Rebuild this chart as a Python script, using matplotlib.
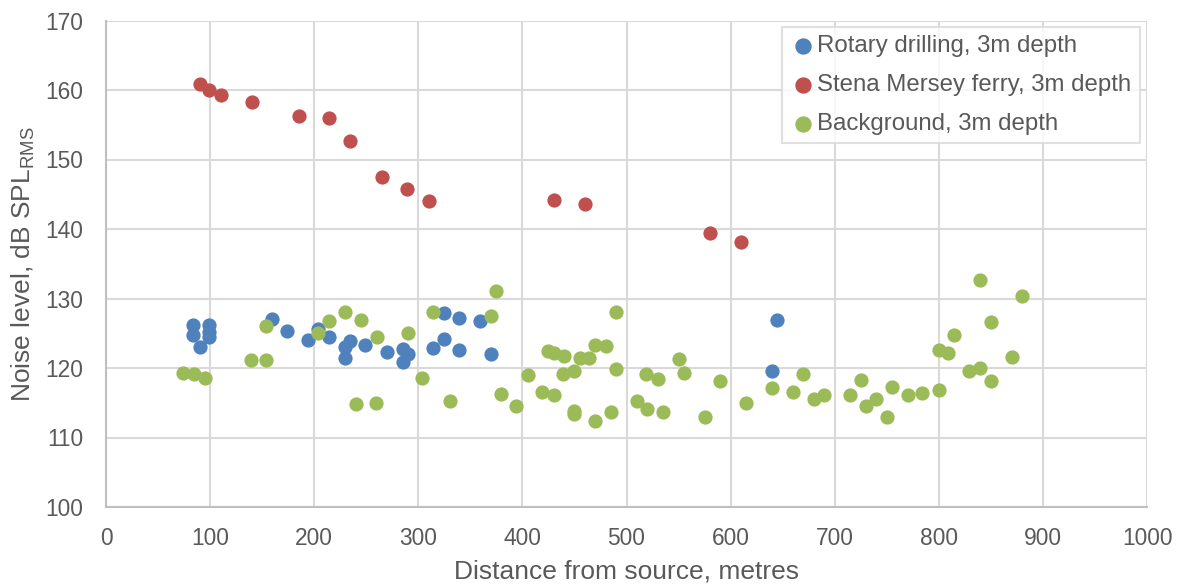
import matplotlib
matplotlib.use("Agg")
import matplotlib.pyplot as plt

plt.rcParams['font.family'] = ['Liberation Sans', 'DejaVu Sans']
plt.rcParams['mathtext.default'] = 'regular'

# Rotary drilling, 3m depth
drill_x = [84, 84, 99, 99, 99, 90, 159, 174, 194, 204, 214, 230, 234, 230, 249, 270,
           285, 290, 285, 325, 339, 314, 325, 339, 359, 370, 645, 640]
drill_y = [126.2, 124.7, 126.2, 125.2, 124.5, 123.0, 127.0, 125.3, 124.0, 125.6, 124.4,
           123.0, 123.9, 121.5, 123.3, 122.3, 122.7, 122.0, 120.8, 127.9, 127.2, 122.9,
           124.2, 122.6, 126.7, 122.0, 126.9, 119.6]

# Stena Mersey ferry, 3m depth
ferry_x = [90, 99, 110, 140, 185, 214, 234, 265, 289, 310, 430, 460, 580, 610]
ferry_y = [160.9, 160.0, 159.3, 158.3, 156.2, 155.9, 152.6, 147.5, 145.7, 144.0,
           144.2, 143.6, 139.4, 138.2]

# Background, 3m depth
bg_x = [74, 85, 95, 139, 154, 154, 204, 214, 230, 245, 260, 240, 259, 290, 304, 314,
        330, 375, 370, 379, 394, 405, 419, 430, 425, 430, 440, 439, 450, 450, 450, 455,
        464, 470, 480, 470, 485, 490, 490, 519, 530, 510, 520, 535, 550, 555, 590, 575,
        615, 640, 660, 670, 680, 690, 715, 725, 730, 740, 750, 755, 770, 784, 800, 800,
        809, 815, 829, 840, 850, 840, 850, 870, 880]
bg_y = [119.3, 119.2, 118.5, 121.2, 121.2, 126.0, 125.0, 126.8, 128.0, 126.9, 124.4,
        114.8, 115.0, 125.0, 118.6, 128.0, 115.3, 131.1, 127.5, 116.3, 114.5, 119.0,
        116.5, 116.1, 122.5, 122.1, 121.7, 119.1, 119.5, 113.8, 113.4, 121.5, 121.5,
        123.3, 123.2, 112.4, 113.6, 128.0, 119.9, 119.1, 118.4, 115.3, 114.1, 113.7,
        121.3, 119.3, 118.1, 112.9, 114.9, 117.1, 116.5, 119.2, 115.6, 116.1, 116.1,
        118.3, 114.6, 115.6, 112.9, 117.2, 116.1, 116.4, 116.8, 122.6, 122.2, 124.7,
        119.5, 120.0, 118.2, 132.7, 126.6, 121.6, 130.3]

x_ticks = list(range(0, 1001, 100))
y_ticks = list(range(100, 171, 10))

text_color = '#595959'
grid_color = '#D9D9D9'

fig = plt.figure(figsize=(11.81, 5.86), dpi=100)
ax = fig.add_axes([106/1181, 1 - 507/586, (1147 - 106)/1181, (507 - 20.5)/586])

ms = 105
ax.scatter(drill_x, drill_y, s=ms, color='#4F81BD', label='Rotary drilling, 3m depth', zorder=3, linewidths=0)
ax.scatter(ferry_x, ferry_y, s=ms, color='#C0504D', label='Stena Mersey ferry, 3m depth', zorder=3, linewidths=0)
ax.scatter(bg_x, bg_y, s=ms, color='#9BBB59', label='Background, 3m depth', zorder=3, linewidths=0)

ax.set_xlim(0, 1000)
ax.set_ylim(100, 170)
ax.set_xticks(x_ticks)
ax.set_yticks(y_ticks)
ax.grid(True, color=grid_color, linewidth=1.5, zorder=0)
ax.set_axisbelow(True)
for side in ['top', 'right']:
    ax.spines[side].set_visible(False)
for side in ['left', 'bottom']:
    ax.spines[side].set_color('#BFBFBF')
    ax.spines[side].set_linewidth(1.5)
ax.tick_params(axis='both', length=0, labelsize=16.4, colors=text_color)
ax.tick_params(axis='x', pad=14.5)
ax.tick_params(axis='y', pad=16.5)

ax.set_xlabel('Distance from source, metres', fontsize=19, color=text_color, labelpad=6.5)
ax.set_ylabel('Noise level, dB SPL$_{RMS}$', fontsize=19, color=text_color, labelpad=6)

leg = ax.legend(loc='upper right', bbox_to_anchor=(0.9933, 0.9866), borderaxespad=0,
                fontsize=17.3, frameon=True, fancybox=False, edgecolor=grid_color,
                markerscale=1.15, handletextpad=0.12, borderpad=0.35,
                labelspacing=0.7, handlelength=1.0)
leg.get_frame().set_linewidth(1.5)
for t in leg.get_texts():
    t.set_color(text_color)

fig.savefig('out.png', dpi=100)
